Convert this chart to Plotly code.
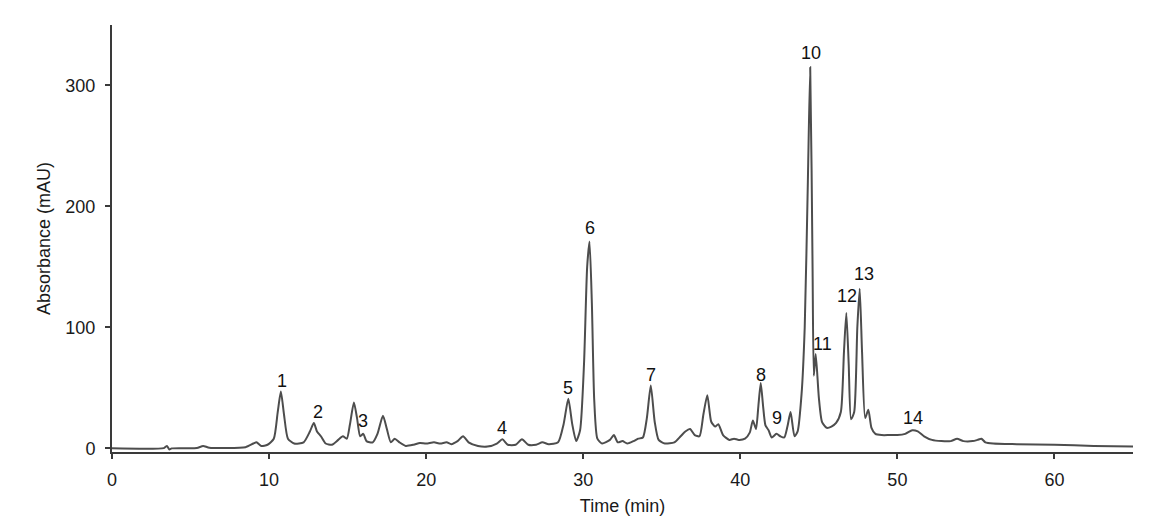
import plotly.graph_objects as go

# Chromatogram trace: retention time (min) and absorbance (mAU)
time_min = [
    0.0, 3.3, 3.5, 3.65, 3.8, 5.4, 5.8, 6.2, 8.5, 9.0, 9.2, 9.5, 9.9,
    10.3, 10.55, 10.75, 10.95, 11.2, 11.6, 12.2, 12.6, 12.85, 13.05, 13.3, 13.6,
    14.0, 14.4, 14.7, 14.95, 15.15, 15.4, 15.6, 15.8, 16.0, 16.2, 16.6, 16.9,
    17.25, 17.5, 17.75, 18.0, 18.3, 18.7, 19.2, 19.6, 20.0, 20.5, 20.9, 21.3,
    21.6, 22.0, 22.35, 22.7, 23.3, 23.9, 24.5, 24.85, 25.2, 25.7, 26.1, 26.5,
    27.0, 27.4, 27.8, 28.4, 28.75, 29.05, 29.3, 29.55, 29.8, 30.05, 30.25, 30.4,
    30.55, 30.7, 30.9, 31.2, 31.7, 31.95, 32.2, 32.5, 32.8, 33.2, 33.5, 33.8,
    34.05, 34.3, 34.55, 34.8, 35.2, 35.8, 36.2, 36.5, 36.8, 37.1, 37.4, 37.65,
    37.9, 38.15, 38.4, 38.6, 38.9, 39.3, 39.6, 39.9, 40.3, 40.6, 40.8, 41.0,
    41.15, 41.3, 41.45, 41.6, 41.8, 42.0, 42.3, 42.55, 42.8, 43.0, 43.2, 43.45,
    43.65, 43.9, 44.1, 44.3, 44.45, 44.6, 44.68, 44.8, 45.0, 45.2, 45.5, 45.8,
    46.1, 46.4, 46.6, 46.75, 46.9, 47.05, 47.25, 47.45, 47.6, 47.75, 47.95, 48.15,
    48.35, 48.6, 49.0, 49.5, 50.0, 50.5, 50.95, 51.3, 51.7, 52.2, 52.8, 53.4,
    53.8, 54.2, 54.8, 55.1, 55.35, 55.6, 56.1, 57.6, 60.0, 62.5, 65.0,
]
absorbance = [
    0.0, 0.2, 2.0, -1.0, 0.0, 0.3, 2.0, 0.5, 1.0, 4.0, 5.0, 2.0, 3.0,
    8.0, 30.0, 47.0, 28.0, 8.0, 4.0, 5.0, 14.0, 21.0, 14.0, 10.0, 4.0,
    3.0, 7.0, 10.0, 8.0, 20.0, 38.0, 25.0, 10.0, 12.0, 6.0, 5.0, 12.0,
    27.0, 16.0, 5.0, 8.0, 5.0, 2.0, 3.0, 4.5, 4.0, 5.0, 4.0, 5.0,
    3.5, 6.0, 10.0, 5.0, 2.0, 1.5, 4.0, 7.5, 3.0, 3.0, 7.5, 3.0,
    3.0, 5.0, 3.5, 5.0, 20.0, 41.0, 20.0, 6.0, 15.0, 70.0, 150.0, 171.0,
    120.0, 40.0, 8.0, 4.0, 7.0, 11.0, 5.0, 6.0, 4.0, 6.0, 8.0, 9.0,
    25.0, 52.0, 22.0, 7.0, 4.0, 5.0, 10.0, 14.0, 16.0, 11.0, 10.0, 28.0,
    44.0, 22.0, 18.0, 20.0, 11.0, 7.0, 8.0, 7.0, 8.0, 13.0, 23.0, 16.0,
    35.0, 54.0, 35.0, 19.0, 15.0, 9.0, 12.0, 10.0, 9.0, 18.0, 30.0, 10.0,
    14.0, 45.0, 100.0, 220.0, 315.0, 150.0, 60.0, 78.0, 42.0, 22.0, 17.0, 18.0,
    21.0, 30.0, 80.0, 112.0, 70.0, 24.0, 30.0, 100.0, 132.0, 80.0, 25.0, 32.0,
    17.0, 12.0, 11.0, 11.0, 11.0, 12.0, 15.0, 14.0, 10.0, 7.0, 6.0, 6.0,
    8.0, 6.0, 6.0, 7.0, 8.0, 5.0, 4.0, 3.5, 3.0, 2.0, 1.5,
]

# Peak labels and where they sit (time, absorbance)
peak_labels = ["1", "2", "3", "4", "5", "6", "7", "8", "9", "10", "11", "12", "13", "14"]
label_times = [10.8, 13.1, 16.0, 24.85, 29.05, 30.45, 34.3, 41.3, 42.35, 44.5, 45.25, 46.8, 47.9, 51.0]
label_values = [56, 30, 23, 17, 50, 182, 61, 61, 25, 327, 86, 126, 144, 25]

x_ticks = [0, 10, 20, 30, 40, 50, 60]
y_ticks = [0, 100, 200, 300]

FONT = "Liberation Sans, Arial, Helvetica, sans-serif"
AXIS_COLOR = "#3a3a3a"

fig = go.Figure()
fig.add_trace(go.Scatter(
    x=time_min, y=absorbance, mode="lines",
    line=dict(color="#4d4d4d", width=2, shape="spline", smoothing=0.6),
    hoverinfo="x+y", showlegend=False,
))

for lab, tx, ty in zip(peak_labels, label_times, label_values):
    fig.add_annotation(x=tx, y=ty, text=lab, showarrow=False,
                       font=dict(family=FONT, size=18, color="#111111"))

fig.update_layout(
    width=1155, height=517,
    margin=dict(l=112, r=22, t=25, b=65, autoexpand=False),
    paper_bgcolor="white", plot_bgcolor="white",
    font=dict(family=FONT, size=18, color="#1a1a1a"),
    xaxis=dict(
        range=[0, 65], tickvals=x_ticks, ticktext=[str(v) for v in x_ticks],
        showgrid=False, zeroline=False, showline=True, linecolor=AXIS_COLOR, linewidth=2,
        ticks="outside", ticklen=5, tickwidth=1.5, tickcolor=AXIS_COLOR,
        ticklabelstandoff=5, automargin=False,
        title=dict(text="Time (min)", standoff=11, font=dict(size=18)),
        tickfont=dict(size=18),
    ),
    yaxis=dict(
        range=[-3, 350], tickvals=y_ticks, ticktext=[str(v) for v in y_ticks],
        showgrid=False, zeroline=False, showline=True, linecolor=AXIS_COLOR, linewidth=2,
        ticks="outside", ticklen=5, tickwidth=1.5, tickcolor=AXIS_COLOR,
        ticklabelstandoff=6, automargin=False,
        title=dict(text="Absorbance (mAU)", standoff=10, font=dict(size=18)),
        tickfont=dict(size=18),
    ),
)

fig.write_html("out.html")
